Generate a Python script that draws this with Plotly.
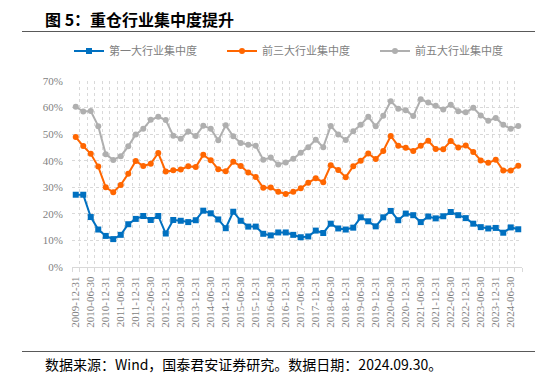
import plotly.graph_objects as go
import pandas as pd

# ---- data ----
dates = [d.strftime("%Y-%m-%d") for d in pd.date_range("2009-12-31", periods=60, freq="QE")]

top1 = [27.2, 27.2, 18.8, 14.1, 11.7, 10.5, 12.1, 16.1, 18.1, 19.2,
        17.7, 19.2, 12.6, 17.7, 17.4, 16.9, 17.6, 21.2, 20.2, 17.9,
        14.6, 20.8, 17.4, 15.2, 15.2, 12.5, 11.9, 13.0, 13.0, 12.1,
        11.2, 11.5, 13.7, 12.8, 16.3, 14.5, 14.1, 14.8, 18.7, 17.2,
        15.3, 18.7, 21.1, 17.6, 20.1, 19.5, 16.9, 19.0, 18.3, 19.1,
        20.7, 19.5, 18.4, 16.3, 15.0, 14.5, 14.7, 12.9, 14.9, 14.2]

top3 = [48.9, 45.5, 42.6, 37.8, 30.0, 28.1, 30.9, 35.1, 39.9, 38.0,
        38.9, 42.9, 35.9, 36.4, 36.7, 37.9, 37.6, 42.2, 40.2, 36.8,
        36.0, 39.6, 38.0, 35.6, 33.9, 29.8, 29.9, 28.3, 27.5, 28.3,
        29.6, 31.7, 33.4, 31.9, 38.3, 36.5, 33.8, 37.9, 40.0, 42.7,
        40.6, 43.7, 49.3, 45.6, 44.9, 43.7, 45.6, 47.5, 44.4, 44.3,
        47.4, 45.0, 45.7, 43.3, 40.1, 39.2, 40.4, 36.3, 36.3, 38.1]

top5 = [60.3, 58.5, 58.7, 53.0, 42.4, 40.3, 41.7, 45.4, 49.9, 52.0,
        55.4, 56.5, 55.3, 49.4, 48.3, 51.0, 49.3, 53.2, 52.0, 47.7,
        53.3, 49.2, 46.7, 46.0, 45.6, 40.4, 41.2, 38.6, 39.3, 40.7,
        43.0, 45.1, 47.9, 45.1, 53.1, 49.9, 47.8, 51.1, 53.5, 56.5,
        53.0, 56.9, 62.4, 59.6, 59.0, 56.8, 63.1, 61.9, 60.7, 59.3,
        61.1, 58.6, 58.2, 59.9, 57.0, 55.0, 56.1, 53.5, 52.0, 53.1]

series_names = ["第一大行业集中度", "前三大行业集中度", "前五大行业集中度"]
series_values = [top1, top3, top5]

title_text = "图 5：重仓行业集中度提升"
source_text = "数据来源：Wind，国泰君安证券研究。数据日期：2024.09.30。"

# ---- styles / layout geometry (page pixels) ----
colors = ["#0070C0", "#FF6600", "#AFAFAF"]
symbols = ["square", "circle", "circle"]

OFF = 8  # default body margin of the html page
W, H = 553 - OFF, 382 - OFF
PLOT_L, PLOT_R, PLOT_T, PLOT_B = 72, 522, 81, 267  # in page pixels
ML = PLOT_L - OFF
MT = PLOT_T - OFF
MR = 553 - PLOT_R
MB = 382 - PLOT_B
PW, PH = PLOT_R - PLOT_L, PLOT_B - PLOT_T


def px_x(px):
    return (px - PLOT_L) / PW


def px_y(py):
    return (PLOT_B - py) / PH


xpos = list(range(len(dates)))

fig = go.Figure()
for name, vals, c, s in zip(series_names, series_values, colors, symbols):
    fig.add_trace(go.Scatter(
        x=xpos, y=vals, name=name, mode="lines+markers",
        line=dict(color=c, width=2),
        marker=dict(color=c, symbol=s, size=6),
    ))

grid_c = "#D9D9D9"
tick_font = dict(family="Liberation Serif", size=11, color="#7F7F7F")

fig.update_layout(
    width=W, height=H,
    margin=dict(l=ML, r=MR, t=MT, b=MB),
    paper_bgcolor="white", plot_bgcolor="white",
    showlegend=True,
    legend=dict(
        orientation="h", x=px_x(69), xanchor="left", y=px_y(51), yanchor="middle",
        font=dict(family="Noto Sans CJK SC", size=11, color="#7F7F7F"),
        entrywidth=108, bgcolor="rgba(0,0,0,0)",
    ),
    xaxis=dict(
        range=[-0.5, len(dates) - 0.5],
        tickmode="array",
        tickvals=xpos[::2], ticktext=dates[::2],
        tickangle=-90, tickfont=tick_font,
        showgrid=False, zeroline=False,
        showline=True, linecolor=grid_c, linewidth=1,
        ticks="",
        minor=dict(tickmode="array", tickvals=[i - 0.5 for i in range(len(dates) + 1)],
                   showgrid=True, gridcolor=grid_c, griddash="dot", gridwidth=1,
                   ticks="outside", ticklen=4, tickcolor=grid_c),
        ticklabelstandoff=4,
    ),
    yaxis=dict(
        range=[0, 70], tickmode="linear", tick0=0, dtick=10, ticksuffix="%",
        tickfont=tick_font, showgrid=True, gridcolor=grid_c, griddash="dot",
        zeroline=False, showline=False, ticks="", ticklabelstandoff=8,
    ),
    annotations=[
        dict(text="<b>" + title_text + "</b>", xref="paper", yref="paper",
             x=px_x(43), y=px_y(19), xanchor="left", yanchor="middle", showarrow=False,
             font=dict(family="Noto Sans CJK SC", size=16, color="black")),
        dict(text=source_text, xref="paper", yref="paper",
             x=px_x(43), y=px_y(364), xanchor="left", yanchor="middle", showarrow=False,
             font=dict(family="Noto Sans CJK SC", size=14, color="black")),
    ],
    shapes=[
        dict(type="line", xref="paper", yref="paper", x0=px_x(22), x1=px_x(535),
             y0=px_y(31.5), y1=px_y(31.5), line=dict(color="#595959", width=1)),
        dict(type="line", xref="paper", yref="paper", x0=px_x(22), x1=px_x(535),
             y0=px_y(351.5), y1=px_y(351.5), line=dict(color="#595959", width=1)),
    ],
)

fig.write_html("out.html")
